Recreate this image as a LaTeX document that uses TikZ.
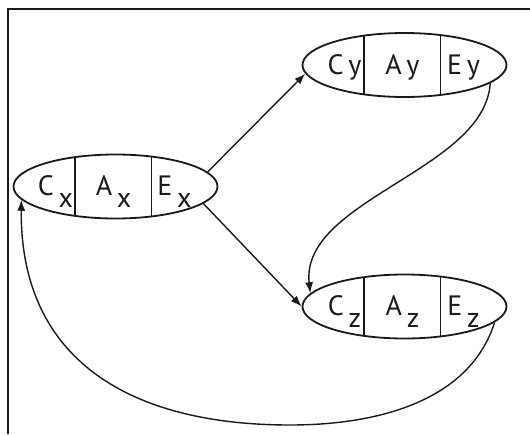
\documentclass[tikz,border=0pt]{standalone}
\usepackage{fontspec}
\setmainfont{PT Sans}
\usetikzlibrary{arrows.meta,positioning,shapes.geometric,calc}
\definecolor{ink}{HTML}{1A1A1A}
\newcommand{\lowsub}[1]{\raisebox{-6pt}{#1}}
\tikzset{
  cellring/.style={
    ellipse, draw=ink, line width=0.9pt,
    minimum width=102pt, minimum height=32pt,
    inner sep=0pt
  },
  celltext/.style={
    font=\fontsize{14}{16}\selectfont, text=ink,
    anchor=base, inner sep=0pt
  },
  divider/.style={
    line width=0.75pt, color=ink
  },
  flowarrow/.style={
    -{Latex[length=5.5pt,width=4pt]}, line width=0.7pt, color=ink
  },
}

\begin{document}
\begin{tikzpicture}[x=0.5pt,y=-0.5pt]
  \useasboundingbox (0,0) rectangle (530,434);

  % Frame
  \draw[line width=0.9pt, ink] (8,434) -- (8,9) -- (530,9);

  % Ellipses
  \node[cellring] (x) at (115.5,186.5) {};
  \node[cellring] (y) at (404.5,65) {};
  \node[cellring] (z) at (404.5,306.5) {};

  % Cells and labels
  \foreach \n/\sub in {x/\lowsub{x}, y/y, z/\lowsub{z}} {
    \draw[divider] ($(\n.center)+(-40.5,-29.4)$) -- ++(0,58.8);
    \draw[divider] ($(\n.center)+(36,-29.9)$) -- ++(0,59.8);
    \node[celltext] (\n c) at ($(\n.center)+(-60,9)$) {C\,\sub};
    \node[celltext] (\n a) at ($(\n.center)+(-2,9)$) {A\,\sub};
    \node[celltext] (\n e) at ($(\n.center)+(59,9)$) {E\,\sub};
  }

  % Connectors
  \coordinate (bottom) at (290,425);
  \draw[flowarrow] (x.9) -- (y.185);
  \draw[flowarrow] (x.-11) -- (z.180);
  \draw[flowarrow] (y.-12) .. controls (485,170) and (300,200) .. (z.172);
  \draw[flowarrow] (z.-10) .. controls (470,400) and (380,425) .. (bottom)
    .. controls (130,425) and (20,360) .. (x.188);
\end{tikzpicture}
\end{document}
